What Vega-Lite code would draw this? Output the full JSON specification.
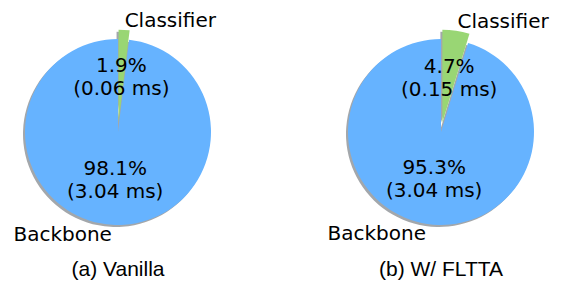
{
  "$schema": "https://vega.github.io/schema/vega-lite/v6.json",
  "padding": 0,
  "background": "white",
  "config": {"view": {"stroke": null}, "concat": {"spacing": 87}},
  "datasets": {
    "vanilla": [
      {"part": "Classifier", "value": 1.9, "label": "1.9%\n(0.06 ms)"},
      {"part": "Backbone", "value": 98.1, "label": "98.1%\n(3.04 ms)"}
    ],
    "fltta": [
      {"part": "Classifier", "value": 4.7, "label": "4.7%\n(0.15 ms)"},
      {"part": "Backbone", "value": 95.3, "label": "95.3%\n(3.04 ms)"}
    ]
  },
  "hconcat": [
    {
      "width": 236,
      "height": 264,
      "data": {"name": "vanilla"},
      "title": {"text": "(a) Vanilla", "orient": "bottom", "offset": -5, "font": "Liberation Sans", "fontSize": 21, "fontWeight": "normal", "color": "black", "anchor": "middle"},
      "encoding": {
        "theta": {"field": "value", "type": "quantitative", "stack": true},
        "order": {"field": "value", "type": "quantitative"}
      },
      "layer": [
        {"mark": {"type": "arc", "outerRadius": 93, "xOffset": -2, "yOffset": 2, "fill": "#a3a7ab"},
         "encoding": {"opacity": {"condition": {"test": "datum.part === 'Backbone'", "value": 1}, "value": 0}}},
        {"mark": {"type": "arc", "outerRadius": 93, "xOffset": -1.45, "yOffset": -7.3, "fill": "#a3a7ab"},
         "encoding": {"opacity": {"condition": {"test": "datum.part === 'Classifier'", "value": 1}, "value": 0}}},
        {"mark": {"type": "arc", "outerRadius": 93, "fill": "#66b3ff"},
         "encoding": {"opacity": {"condition": {"test": "datum.part === 'Backbone'", "value": 1}, "value": 0}}},
        {"mark": {"type": "arc", "outerRadius": 93, "xOffset": 0.55, "yOffset": -9.3, "fill": "#99d674"},
         "encoding": {"opacity": {"condition": {"test": "datum.part === 'Classifier'", "value": 1}, "value": 0}}},
        {"mark": {"type": "text", "radius": 46.5, "dy": -9.5, "font": "DejaVu Sans", "fontSize": 20, "lineBreak": "\n", "lineHeight": 23, "align": "center", "baseline": "middle", "color": "black"},
         "encoding": {"text": {"field": "label"}, "opacity": {"condition": {"test": "datum.part === 'Backbone'", "value": 1}, "value": 0}}},
        {"mark": {"type": "text", "radius": 55.8, "dy": -10, "font": "DejaVu Sans", "fontSize": 20, "lineBreak": "\n", "lineHeight": 23, "align": "center", "baseline": "middle", "color": "black"},
         "encoding": {"text": {"field": "label"}, "opacity": {"condition": {"test": "datum.part === 'Classifier'", "value": 1}, "value": 0}}},
        {"mark": {"type": "text", "radius": 102, "dy": 1.5, "font": "DejaVu Sans", "fontSize": 20, "align": "right", "baseline": "middle", "color": "black"},
         "encoding": {"text": {"field": "part"}, "opacity": {"condition": {"test": "datum.part === 'Backbone'", "value": 1}, "value": 0}}},
        {"mark": {"type": "text", "radius": 111.6, "font": "DejaVu Sans", "fontSize": 20, "align": "left", "baseline": "middle", "color": "black"},
         "encoding": {"text": {"field": "part"}, "opacity": {"condition": {"test": "datum.part === 'Classifier'", "value": 1}, "value": 0}}}
      ]
    },
    {
      "width": 236,
      "height": 264,
      "data": {"name": "fltta"},
      "title": {"text": "(b) W/ FLTTA", "orient": "bottom", "offset": -5, "font": "Liberation Sans", "fontSize": 21, "fontWeight": "normal", "color": "black", "anchor": "middle"},
      "encoding": {
        "theta": {"field": "value", "type": "quantitative", "stack": true},
        "order": {"field": "value", "type": "quantitative"}
      },
      "layer": [
        {"mark": {"type": "arc", "outerRadius": 93, "xOffset": -2, "yOffset": 2, "fill": "#a3a7ab"},
         "encoding": {"opacity": {"condition": {"test": "datum.part === 'Backbone'", "value": 1}, "value": 0}}},
        {"mark": {"type": "arc", "outerRadius": 93, "xOffset": -0.63, "yOffset": -7.2, "fill": "#a3a7ab"},
         "encoding": {"opacity": {"condition": {"test": "datum.part === 'Classifier'", "value": 1}, "value": 0}}},
        {"mark": {"type": "arc", "outerRadius": 93, "fill": "#66b3ff"},
         "encoding": {"opacity": {"condition": {"test": "datum.part === 'Backbone'", "value": 1}, "value": 0}}},
        {"mark": {"type": "arc", "outerRadius": 93, "xOffset": 1.37, "yOffset": -9.2, "fill": "#99d674"},
         "encoding": {"opacity": {"condition": {"test": "datum.part === 'Classifier'", "value": 1}, "value": 0}}},
        {"mark": {"type": "text", "radius": 46.5, "dy": -9.5, "font": "DejaVu Sans", "fontSize": 20, "lineBreak": "\n", "lineHeight": 23, "align": "center", "baseline": "middle", "color": "black"},
         "encoding": {"text": {"field": "label"}, "opacity": {"condition": {"test": "datum.part === 'Backbone'", "value": 1}, "value": 0}}},
        {"mark": {"type": "text", "radius": 55.8, "dy": -10, "font": "DejaVu Sans", "fontSize": 20, "lineBreak": "\n", "lineHeight": 23, "align": "center", "baseline": "middle", "color": "black"},
         "encoding": {"text": {"field": "label"}, "opacity": {"condition": {"test": "datum.part === 'Classifier'", "value": 1}, "value": 0}}},
        {"mark": {"type": "text", "radius": 102, "dy": 1.5, "font": "DejaVu Sans", "fontSize": 20, "align": "right", "baseline": "middle", "color": "black"},
         "encoding": {"text": {"field": "part"}, "opacity": {"condition": {"test": "datum.part === 'Backbone'", "value": 1}, "value": 0}}},
        {"mark": {"type": "text", "radius": 111.6, "font": "DejaVu Sans", "fontSize": 20, "align": "left", "baseline": "middle", "color": "black"},
         "encoding": {"text": {"field": "part"}, "opacity": {"condition": {"test": "datum.part === 'Classifier'", "value": 1}, "value": 0}}}
      ]
    }
  ]
}
